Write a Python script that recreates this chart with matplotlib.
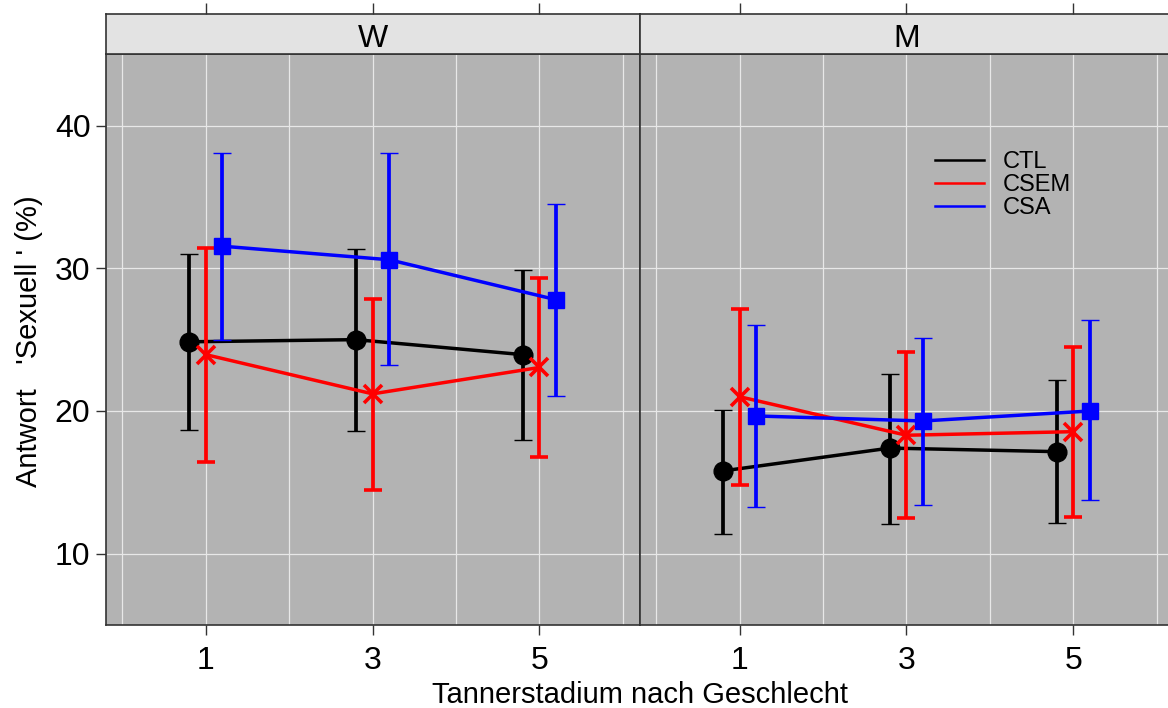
import matplotlib
matplotlib.use("Agg")
import matplotlib.pyplot as plt
import numpy as np
from matplotlib.lines import Line2D
from matplotlib.ticker import FixedLocator

plt.rcParams['font.family'] = ['Liberation Sans', 'DejaVu Sans']

# Tanner stages and groups
stages = [1, 3, 5]
groups = ["CTL", "CSEM", "CSA"]
panels = ["W", "M"]

# W panel: means, lower and upper bounds
ctl_w_mean = [24.85, 25.0, 23.95]
ctl_w_lo = [18.7, 18.6, 17.95]
ctl_w_hi = [31.0, 31.35, 29.85]
csem_w_mean = [23.95, 21.2, 23.05]
csem_w_lo = [16.45, 14.45, 16.8]
csem_w_hi = [31.45, 27.85, 29.3]
csa_w_mean = [31.55, 30.6, 27.8]
csa_w_lo = [25.0, 23.25, 21.05]
csa_w_hi = [38.05, 38.05, 34.5]

# M panel
ctl_m_mean = [15.8, 17.4, 17.15]
ctl_m_lo = [11.4, 12.1, 12.15]
ctl_m_hi = [20.1, 22.6, 22.2]
csem_m_mean = [21.0, 18.3, 18.55]
csem_m_lo = [14.8, 12.5, 12.6]
csem_m_hi = [27.15, 24.1, 24.5]
csa_m_mean = [19.65, 19.3, 20.0]
csa_m_lo = [13.3, 13.4, 13.75]
csa_m_hi = [26.05, 25.1, 26.35]

data = {
    "W": [(ctl_w_mean, ctl_w_lo, ctl_w_hi),
          (csem_w_mean, csem_w_lo, csem_w_hi),
          (csa_w_mean, csa_w_lo, csa_w_hi)],
    "M": [(ctl_m_mean, ctl_m_lo, ctl_m_hi),
          (csem_m_mean, csem_m_lo, csem_m_hi),
          (csa_m_mean, csa_m_lo, csa_m_hi)],
}

colors = ["black", "#ff0000", "#0000ff"]
markers = ["o", "x", "s"]
msizes = [13.5, 13, 11.5]
offsets = [-0.2, 0.0, 0.2]

W, H = 1168, 708
fig = plt.figure(figsize=(W / 100, H / 100), dpi=100)

panel_bg = "#b3b3b3"
strip_bg = "#e3e3e3"
frame_col = "#333333"
grid_col = "#e8e8e8"

px_left = [105.7, 639.5]
px_w = 533.8
py_top, py_bot, py_strip = 54.3, 625.0, 14.0

for i, name in enumerate(panels):
    ax = fig.add_axes([px_left[i] / W, (H - py_bot) / H, px_w / W, (py_bot - py_top) / H])
    sx = fig.add_axes([px_left[i] / W, (H - py_top) / H, px_w / W, (py_top - py_strip) / H],
                      sharex=ax)
    ax.set_facecolor(panel_bg)
    ax.set_xlim(-0.2, 6.2)
    ax.set_ylim(5, 45)
    ax.set_xticks(stages)
    ax.xaxis.set_minor_locator(FixedLocator([0, 2, 4, 6]))
    ax.set_yticks([10, 20, 30, 40])
    ax.grid(True, which="both", axis="x", color=grid_col, lw=0.9)
    ax.grid(True, which="major", axis="y", color=grid_col, lw=0.9)
    ax.set_axisbelow(True)
    for sp in ax.spines.values():
        sp.set_color(frame_col)
        sp.set_linewidth(1.2)
    ax.tick_params(axis="x", which="major", direction="out", length=7, width=1,
                   color=frame_col, labelsize=23, pad=8)
    ax.tick_params(axis="x", which="minor", length=0)
    ax.tick_params(axis="y", direction="out", length=7, width=1, color=frame_col,
                   labelsize=23, pad=4, left=(i == 0), labelleft=(i == 0))

    for g, (mean, lo, hi) in enumerate(data[name]):
        mean = np.array(mean)
        err = [mean - np.array(lo), np.array(hi) - mean]
        xs = np.array(stages) + offsets[g]
        ax.errorbar(xs, mean, yerr=err, color=colors[g], lw=2.5, elinewidth=2.7,
                    capsize=6.8, capthick=2.7, marker=markers[g], ms=msizes[g],
                    mew=2.6 if markers[g] == "x" else 1, zorder=3 + g)

    # strip
    sx.set_facecolor(strip_bg)
    sx.set_ylim(0, 1)
    sx.set_yticks([])
    sx.tick_params(axis="x", which="major", top=True, bottom=False, labeltop=False,
                   labelbottom=False, direction="out", length=8, width=1, color=frame_col)
    sx.tick_params(axis="x", which="minor", top=False, bottom=False)
    for sp in sx.spines.values():
        sp.set_color(frame_col)
        sp.set_linewidth(1.2)
    sx.text(3.0, 0.38, name, ha="center", va="center", fontsize=23)

    if name == "M":
        handles = [Line2D([], [], color=c, lw=1.8) for c in colors]
        ax.legend(handles, groups, loc="upper left", frameon=False, fontsize=17,
                  bbox_to_anchor=(935 / W, (H - 151) / H), bbox_transform=fig.transFigure,
                  borderpad=0, borderaxespad=0, handlelength=2.07, handletextpad=0.8,
                  labelspacing=0.05)

fig.text(640 / W, 4.7 / H, "Tannerstadium nach Geschlecht", ha="center", va="baseline",
         fontsize=21)
fig.text(29 / W, (H - 341) / H, "Antwort   'Sexuell ' (%)", ha="center", va="center",
         rotation=90, fontsize=21)

fig.savefig("out.png", dpi=100)
